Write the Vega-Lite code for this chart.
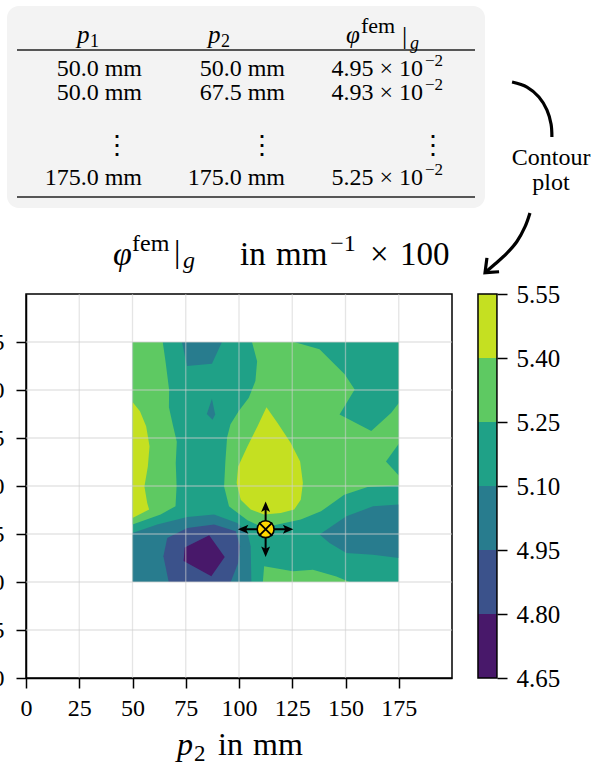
{
  "$schema": "https://vega.github.io/schema/vega-lite/v6.json",
  "width": 426,
  "height": 384,
  "autosize": {"type": "none"},
  "padding": {"left": 26, "top": 294, "right": 150, "bottom": 87},
  "background": "white",
  "config": {
    "view": {"stroke": "black", "strokeWidth": 1.5},
    "text": {"font": "Liberation Serif", "fontSize": 24, "color": "black", "baseline": "alphabetic", "align": "left"},
    "axis": {"labelFont": "Liberation Serif", "labelFontSize": 24, "labelColor": "black", "domainColor": "black", "domainWidth": 1.5, "tickColor": "black", "tickWidth": 1.5, "tickSize": 10, "grid": false, "labelFlush": false, "labelOverlap": false}
  },
  "datasets": {
    "contours": [
      {"poly":"base","level":5.1,"i":0,"p2":50,"p1":50},{"poly":"base","level":5.1,"i":1,"p2":175,"p1":50},{"poly":"base","level":5.1,"i":2,"p2":175,"p1":175},{"poly":"base","level":5.1,"i":3,"p2":50,"p1":175},
      {"poly":"lg","level":5.25,"i":0,"p2":50,"p1":175},{"poly":"lg","level":5.25,"i":1,"p2":64.2,"p1":175},{"poly":"lg","level":5.25,"i":2,"p2":65.6,"p1":164},{"poly":"lg","level":5.25,"i":3,"p2":67.2,"p1":150},{"poly":"lg","level":5.25,"i":4,"p2":67.1,"p1":141},{"poly":"lg","level":5.25,"i":5,"p2":69,"p1":131.5},{"poly":"lg","level":5.25,"i":6,"p2":70.8,"p1":123},{"poly":"lg","level":5.25,"i":7,"p2":70.3,"p1":112},{"poly":"lg","level":5.25,"i":8,"p2":70.7,"p1":100},{"poly":"lg","level":5.25,"i":9,"p2":70.2,"p1":89.5},{"poly":"lg","level":5.25,"i":10,"p2":63.2,"p1":85.2},{"poly":"lg","level":5.25,"i":11,"p2":50,"p1":80},
      {"poly":"rg","level":5.25,"i":0,"p2":106.1,"p1":175},{"poly":"rg","level":5.25,"i":1,"p2":108.5,"p1":165},{"poly":"rg","level":5.25,"i":2,"p2":107.7,"p1":154.7},{"poly":"rg","level":5.25,"i":3,"p2":104.6,"p1":146},{"poly":"rg","level":5.25,"i":4,"p2":99.9,"p1":139.1},{"poly":"rg","level":5.25,"i":5,"p2":96,"p1":132.1},{"poly":"rg","level":5.25,"i":6,"p2":94.4,"p1":125.2},{"poly":"rg","level":5.25,"i":7,"p2":93.6,"p1":112.7},{"poly":"rg","level":5.25,"i":8,"p2":93,"p1":99.8},{"poly":"rg","level":5.25,"i":9,"p2":95.3,"p1":89.4},{"poly":"rg","level":5.25,"i":10,"p2":104,"p1":82.1},{"poly":"rg","level":5.25,"i":11,"p2":111.5,"p1":78.3},{"poly":"rg","level":5.25,"i":12,"p2":118.1,"p1":80},{"poly":"rg","level":5.25,"i":13,"p2":129,"p1":82.5},{"poly":"rg","level":5.25,"i":14,"p2":138.5,"p1":86.8},{"poly":"rg","level":5.25,"i":15,"p2":149.4,"p1":95.5},{"poly":"rg","level":5.25,"i":16,"p2":160.4,"p1":99.5},{"poly":"rg","level":5.25,"i":17,"p2":175,"p1":100.2},{"poly":"rg","level":5.25,"i":18,"p2":175,"p1":175},
      {"poly":"bg","level":5.25,"i":0,"p2":111.2,"p1":50},{"poly":"bg","level":5.25,"i":1,"p2":111.8,"p1":58.2},{"poly":"bg","level":5.25,"i":2,"p2":125.3,"p1":55.6},{"poly":"bg","level":5.25,"i":3,"p2":134.7,"p1":56.4},{"poly":"bg","level":5.25,"i":4,"p2":145.7,"p1":52.9},{"poly":"bg","level":5.25,"i":5,"p2":151.9,"p1":50},
      {"poly":"ly","level":5.4,"i":0,"p2":50,"p1":143.8},{"poly":"ly","level":5.4,"i":1,"p2":53.5,"p1":138.9},{"poly":"ly","level":5.4,"i":2,"p2":56.4,"p1":131.1},{"poly":"ly","level":5.4,"i":3,"p2":58,"p1":120.7},{"poly":"ly","level":5.4,"i":4,"p2":57.2,"p1":110.2},{"poly":"ly","level":5.4,"i":5,"p2":55.6,"p1":99.8},{"poly":"ly","level":5.4,"i":6,"p2":56.9,"p1":91.1},{"poly":"ly","level":5.4,"i":7,"p2":57.8,"p1":87.7},{"poly":"ly","level":5.4,"i":8,"p2":50,"p1":83.3},
      {"poly":"dr","level":5.4,"i":0,"p2":112.9,"p1":141},{"poly":"dr","level":5.4,"i":1,"p2":118.1,"p1":132.8},{"poly":"dr","level":5.4,"i":2,"p2":124.3,"p1":122.4},{"poly":"dr","level":5.4,"i":3,"p2":128.7,"p1":112.8},{"poly":"dr","level":5.4,"i":4,"p2":130,"p1":101.6},{"poly":"dr","level":5.4,"i":5,"p2":129,"p1":92.9},{"poly":"dr","level":5.4,"i":6,"p2":125.9,"p1":87.7},{"poly":"dr","level":5.4,"i":7,"p2":119.6,"p1":85.9},{"poly":"dr","level":5.4,"i":8,"p2":111.8,"p1":85.1},{"poly":"dr","level":5.4,"i":9,"p2":105.5,"p1":87.7},{"poly":"dr","level":5.4,"i":10,"p2":100.8,"p1":92.9},{"poly":"dr","level":5.4,"i":11,"p2":98.9,"p1":101.6},{"poly":"dr","level":5.4,"i":12,"p2":99.6,"p1":110.2},{"poly":"dr","level":5.4,"i":13,"p2":104,"p1":120.7},{"poly":"dr","level":5.4,"i":14,"p2":108.7,"p1":131.1},
      {"poly":"trt","level":5.1,"i":0,"p2":125.9,"p1":175},{"poly":"trt","level":5.1,"i":1,"p2":137.8,"p1":171.2},{"poly":"trt","level":5.1,"i":2,"p2":149.6,"p1":158.2},{"poly":"trt","level":5.1,"i":3,"p2":154.3,"p1":150.3},{"poly":"trt","level":5.1,"i":4,"p2":147.2,"p1":137.3},{"poly":"trt","level":5.1,"i":5,"p2":162.1,"p1":128.6},{"poly":"trt","level":5.1,"i":6,"p2":171.5,"p1":138.2},{"poly":"trt","level":5.1,"i":7,"p2":175,"p1":143.2},{"poly":"trt","level":5.1,"i":8,"p2":175,"p1":175},
      {"poly":"nt","level":5.1,"i":0,"p2":175,"p1":122},{"poly":"nt","level":5.1,"i":1,"p2":169,"p1":112.8},{"poly":"nt","level":5.1,"i":2,"p2":175,"p1":105.5},
      {"poly":"ti","level":4.95,"i":0,"p2":73.2,"p1":175},{"poly":"ti","level":4.95,"i":1,"p2":75.6,"p1":162.5},{"poly":"ti","level":4.95,"i":2,"p2":87.3,"p1":163.7},{"poly":"ti","level":4.95,"i":3,"p2":92,"p1":175},
      {"poly":"sl","level":4.95,"i":0,"p2":87.3,"p1":145.5},{"poly":"sl","level":4.95,"i":1,"p2":84.9,"p1":137.5},{"poly":"sl","level":4.95,"i":2,"p2":87.6,"p1":134.5},{"poly":"sl","level":4.95,"i":3,"p2":88.8,"p1":137.2},
      {"poly":"btl","level":4.95,"i":0,"p2":50,"p1":50},{"poly":"btl","level":4.95,"i":1,"p2":50,"p1":75.5},{"poly":"btl","level":4.95,"i":2,"p2":61.6,"p1":79.9},{"poly":"btl","level":4.95,"i":3,"p2":75.7,"p1":83.9},{"poly":"btl","level":4.95,"i":4,"p2":88.3,"p1":85.1},{"poly":"btl","level":4.95,"i":5,"p2":99.2,"p1":80.7},{"poly":"btl","level":4.95,"i":6,"p2":104,"p1":75.5},{"poly":"btl","level":4.95,"i":7,"p2":105.5,"p1":68.6},{"poly":"btl","level":4.95,"i":8,"p2":105.8,"p1":50},
      {"poly":"btr","level":4.95,"i":0,"p2":137.8,"p1":74.7},{"poly":"btr","level":4.95,"i":1,"p2":150.4,"p1":84.2},{"poly":"btr","level":4.95,"i":2,"p2":162.9,"p1":89.4},{"poly":"btr","level":4.95,"i":3,"p2":175,"p1":90.3},{"poly":"btr","level":4.95,"i":4,"p2":175,"p1":62.5},{"poly":"btr","level":4.95,"i":5,"p2":162.9,"p1":64.2},{"poly":"btr","level":4.95,"i":6,"p2":150.4,"p1":65.1},{"poly":"btr","level":4.95,"i":7,"p2":142.5,"p1":70.3},
      {"poly":"bl","level":4.8,"i":0,"p2":67,"p1":50},{"poly":"bl","level":4.8,"i":1,"p2":64.5,"p1":63.4},{"poly":"bl","level":4.8,"i":2,"p2":66.3,"p1":72.9},{"poly":"bl","level":4.8,"i":3,"p2":75.7,"p1":78.1},{"poly":"bl","level":4.8,"i":4,"p2":88.3,"p1":79.9},{"poly":"bl","level":4.8,"i":5,"p2":98.5,"p1":76.4},{"poly":"bl","level":4.8,"i":6,"p2":100.5,"p1":68.6},{"poly":"bl","level":4.8,"i":7,"p2":99.6,"p1":59.9},{"poly":"bl","level":4.8,"i":8,"p2":96.1,"p1":50},
      {"poly":"pu","level":4.65,"i":0,"p2":74.5,"p1":68},{"poly":"pu","level":4.65,"i":1,"p2":86,"p1":74.3},{"poly":"pu","level":4.65,"i":2,"p2":93.3,"p1":63},{"poly":"pu","level":4.65,"i":3,"p2":87,"p1":53},{"poly":"pu","level":4.65,"i":4,"p2":74,"p1":61}
    ],
    "ticks": [{"v":25},{"v":50},{"v":75},{"v":100},{"v":125},{"v":150},{"v":175}],
    "design": [{"p2": 112.5, "p1": 77.5}],
    "table": [
      {"row":1,"p1":"50.0 mm","p2":"50.0 mm","phi":"4.95 × 10","exp":"−2"},
      {"row":2,"p1":"50.0 mm","p2":"67.5 mm","phi":"4.93 × 10","exp":"−2"},
      {"row":3,"p1":"175.0 mm","p2":"175.0 mm","phi":"5.25 × 10","exp":"−2"}
    ],
    "arrows": [
      {"a":"arc","i":0,"x":228.2,"y":310.4},{"a":"arc","i":1,"x":235.2,"y":307.8},{"a":"arc","i":2,"x":240.8,"y":302.6},{"a":"arc","i":3,"x":244.6,"y":295.8},{"a":"arc","i":4,"x":246.5,"y":288.5},{"a":"arc","i":5,"x":246.9,"y":281.8},
      {"a":"curve","i":0,"x":236.6,"y":242.2},{"a":"curve","i":1,"x":234.3,"y":235.1},{"a":"curve","i":2,"x":230.4,"y":227.2},{"a":"curve","i":3,"x":225.7,"y":221.2},{"a":"curve","i":4,"x":220.2,"y":215.6},{"a":"curve","i":5,"x":215.5,"y":211.1},
      {"a":"head","i":0,"x":216.4,"y":218.8},{"a":"head","i":1,"x":215.5,"y":211.1},{"a":"head","i":2,"x":222.1,"y":211.6}
    ],
    "bands": [
      {"level":4.65,"hi":4.8},{"level":4.8,"hi":4.95},{"level":4.95,"hi":5.1},{"level":5.1,"hi":5.25},{"level":5.25,"hi":5.4},{"level":5.4,"hi":5.55}
    ]
  },
  "layer": [
    {
      "layer": [
        {
          "data": {"name": "contours"},
          "transform": [{"filter": {"field": "poly", "oneOf": ["base"]}}],
          "mark": {"type": "line", "strokeWidth": 0},
          "encoding": {
            "x": {"field": "p2", "type": "quantitative", "scale": {"domain": [0, 200], "nice": false, "zero": false}, "axis": {"orient": "bottom", "values": [0,25,50,75,100,125,150,175], "title": null, "labelPadding": 8}},
            "y": {"field": "p1", "type": "quantitative", "scale": {"domain": [0, 200], "nice": false, "zero": false}, "axis": {"orient": "left", "values": [0,25,50,75,100,125,150,175], "title": null, "labelPadding": 12}},
            "order": {"field": "i", "type": "quantitative"},
            "detail": {"field": "poly", "type": "nominal"},
            "fill": {"field": "level", "type": "ordinal", "scale": {"domain": [4.65, 4.8, 4.95, 5.1, 5.25, 5.4], "range": ["#48186a", "#3b528b", "#287c8e", "#1fa187", "#5ec962", "#c5e021"]}, "legend": null}
          }
        },
        {
          "data": {"name": "contours"},
          "transform": [{"filter": {"field": "poly", "oneOf": ["lg", "rg", "bg"]}}],
          "mark": {"type": "line", "strokeWidth": 0},
          "encoding": {
            "x": {"field": "p2", "type": "quantitative"},
            "y": {"field": "p1", "type": "quantitative"},
            "order": {"field": "i", "type": "quantitative"},
            "detail": {"field": "poly", "type": "nominal"},
            "fill": {"field": "level", "type": "ordinal", "legend": null}
          }
        },
        {
          "data": {"name": "contours"},
          "transform": [{"filter": {"field": "poly", "oneOf": ["ly", "dr", "trt", "nt", "ti", "sl", "btl", "btr"]}}],
          "mark": {"type": "line", "strokeWidth": 0},
          "encoding": {
            "x": {"field": "p2", "type": "quantitative"},
            "y": {"field": "p1", "type": "quantitative"},
            "order": {"field": "i", "type": "quantitative"},
            "detail": {"field": "poly", "type": "nominal"},
            "fill": {"field": "level", "type": "ordinal", "legend": null}
          }
        },
        {
          "data": {"name": "contours"},
          "transform": [{"filter": {"field": "poly", "oneOf": ["bl"]}}],
          "mark": {"type": "line", "strokeWidth": 0},
          "encoding": {
            "x": {"field": "p2", "type": "quantitative"},
            "y": {"field": "p1", "type": "quantitative"},
            "order": {"field": "i", "type": "quantitative"},
            "detail": {"field": "poly", "type": "nominal"},
            "fill": {"field": "level", "type": "ordinal", "legend": null}
          }
        },
        {
          "data": {"name": "contours"},
          "transform": [{"filter": {"field": "poly", "oneOf": ["pu"]}}],
          "mark": {"type": "line", "strokeWidth": 0},
          "encoding": {
            "x": {"field": "p2", "type": "quantitative"},
            "y": {"field": "p1", "type": "quantitative"},
            "order": {"field": "i", "type": "quantitative"},
            "detail": {"field": "poly", "type": "nominal"},
            "fill": {"field": "level", "type": "ordinal", "legend": null}
          }
        },
        {
          "data": {"name": "ticks"},
          "mark": {"type": "rule", "color": "#d0d0d0", "strokeWidth": 1.3, "opacity": 0.55},
          "encoding": {"x": {"field": "v", "type": "quantitative"}}
        },
        {
          "data": {"name": "ticks"},
          "mark": {"type": "rule", "color": "#d0d0d0", "strokeWidth": 1.3, "opacity": 0.55},
          "encoding": {"y": {"field": "v", "type": "quantitative"}}
        },
        {
          "data": {"name": "design"},
          "mark": {"type": "rule", "color": "black", "strokeWidth": 2, "xOffset": -22, "x2Offset": 22},
          "encoding": {"x": {"field": "p2", "type": "quantitative"}, "x2": {"field": "p2"}, "y": {"field": "p1", "type": "quantitative"}}
        },
        {
          "data": {"name": "design"},
          "mark": {"type": "rule", "color": "black", "strokeWidth": 2, "yOffset": -22, "y2Offset": 22},
          "encoding": {"x": {"field": "p2", "type": "quantitative"}, "y": {"field": "p1", "type": "quantitative"}, "y2": {"field": "p1"}}
        },
        {
          "data": {"name": "design"},
          "mark": {"type": "point", "shape": "M1,0L-1,-0.85L-0.55,0L-1,0.85Z", "filled": true, "color": "black", "opacity": 1, "size": 110, "xOffset": 22.5, "angle": 0},
          "encoding": {"x": {"field": "p2", "type": "quantitative"}, "y": {"field": "p1", "type": "quantitative"}}
        },
        {
          "data": {"name": "design"},
          "mark": {"type": "point", "shape": "M1,0L-1,-0.85L-0.55,0L-1,0.85Z", "filled": true, "color": "black", "opacity": 1, "size": 110, "xOffset": -22.5, "angle": 180},
          "encoding": {"x": {"field": "p2", "type": "quantitative"}, "y": {"field": "p1", "type": "quantitative"}}
        },
        {
          "data": {"name": "design"},
          "mark": {"type": "point", "shape": "M1,0L-1,-0.85L-0.55,0L-1,0.85Z", "filled": true, "color": "black", "opacity": 1, "size": 110, "yOffset": -22.5, "angle": 270},
          "encoding": {"x": {"field": "p2", "type": "quantitative"}, "y": {"field": "p1", "type": "quantitative"}}
        },
        {
          "data": {"name": "design"},
          "mark": {"type": "point", "shape": "M1,0L-1,-0.85L-0.55,0L-1,0.85Z", "filled": true, "color": "black", "opacity": 1, "size": 110, "yOffset": 22.5, "angle": 90},
          "encoding": {"x": {"field": "p2", "type": "quantitative"}, "y": {"field": "p1", "type": "quantitative"}}
        },
        {
          "data": {"name": "design"},
          "mark": {"type": "point", "shape": "circle", "filled": true, "fill": "#ffd700", "stroke": "black", "strokeWidth": 1.6, "opacity": 1, "size": 285},
          "encoding": {"x": {"field": "p2", "type": "quantitative"}, "y": {"field": "p1", "type": "quantitative"}}
        },
        {
          "data": {"name": "design"},
          "mark": {"type": "point", "shape": "M-0.7,-0.7L0.7,0.7M-0.7,0.7L0.7,-0.7", "filled": false, "stroke": "black", "strokeWidth": 1.8, "opacity": 1, "size": 361},
          "encoding": {"x": {"field": "p2", "type": "quantitative"}, "y": {"field": "p1", "type": "quantitative"}}
        },
        {
          "data": {"values": [{}]},
          "mark": {"type": "rect", "fill": "#f3f3f3", "cornerRadius": 12},
          "encoding": {"x": {"datum": -8.92}, "x2": {"datum": 215.49}, "y": {"datum": 350}, "y2": {"datum": 244.79}}
        },
        {
          "data": {"values": [{}]},
          "mark": {"type": "rule", "color": "#222222", "strokeWidth": 1.5},
          "encoding": {"x": {"datum": -4.23}, "x2": {"datum": 210.8}, "y": {"datum": 327.08}}
        },
        {
          "data": {"values": [{}]},
          "mark": {"type": "rule", "color": "#222222", "strokeWidth": 1.5},
          "encoding": {"x": {"datum": -4.23}, "x2": {"datum": 210.8}, "y": {"datum": 250.52}}
        },
        {"data": {"values": [{"t": "p"}]}, "mark": {"type": "text", "fontStyle": "italic", "fontSize": 25}, "encoding": {"x": {"datum": 23.94}, "y": {"datum": 330.73}, "text": {"field": "t"}}},
        {"data": {"values": [{"t": "1"}]}, "mark": {"type": "text", "fontSize": 18}, "encoding": {"x": {"datum": 30.05}, "y": {"datum": 328.65}, "text": {"field": "t"}}},
        {"data": {"values": [{"t": "p"}]}, "mark": {"type": "text", "fontStyle": "italic", "fontSize": 25}, "encoding": {"x": {"datum": 85.45}, "y": {"datum": 330.73}, "text": {"field": "t"}}},
        {"data": {"values": [{"t": "2"}]}, "mark": {"type": "text", "fontSize": 18}, "encoding": {"x": {"datum": 91.55}, "y": {"datum": 328.65}, "text": {"field": "t"}}},
        {"data": {"values": [{"t": "φ"}]}, "mark": {"type": "text", "fontStyle": "italic", "fontSize": 25}, "encoding": {"x": {"datum": 150.23}, "y": {"datum": 330.73}, "text": {"field": "t"}}},
        {"data": {"values": [{"t": "fem"}]}, "mark": {"type": "text", "fontSize": 22}, "encoding": {"x": {"datum": 157.28}, "y": {"datum": 335.94}, "text": {"field": "t"}}},
        {"data": {"values": [{"t": "|"}]}, "mark": {"type": "text", "fontSize": 26}, "encoding": {"x": {"datum": 176.5}, "y": {"datum": 330.21}, "text": {"field": "t"}}},
        {"data": {"values": [{"t": "g"}]}, "mark": {"type": "text", "fontStyle": "italic", "fontSize": 18}, "encoding": {"x": {"datum": 180.3}, "y": {"datum": 327.6}, "text": {"field": "t"}}},
        {
          "data": {"name": "table"},
          "transform": [{"filter": {"field": "row", "equal": 1}}],
          "encoding": {"y": {"datum": 313.54}},
          "layer": [
            {"mark": {"type": "text", "align": "right"}, "encoding": {"x": {"datum": 54.46}, "text": {"field": "p1"}}},
            {"mark": {"type": "text", "align": "right"}, "encoding": {"x": {"datum": 121.6}, "text": {"field": "p2"}}},
            {"mark": {"type": "text", "align": "right"}, "encoding": {"x": {"datum": 186.38}, "text": {"field": "phi"}}},
            {"mark": {"type": "text", "fontSize": 17, "dy": -10}, "encoding": {"x": {"datum": 187.3}, "text": {"field": "exp"}}}
          ]
        },
        {
          "data": {"name": "table"},
          "transform": [{"filter": {"field": "row", "equal": 2}}],
          "encoding": {"y": {"datum": 301.3}},
          "layer": [
            {"mark": {"type": "text", "align": "right"}, "encoding": {"x": {"datum": 54.46}, "text": {"field": "p1"}}},
            {"mark": {"type": "text", "align": "right"}, "encoding": {"x": {"datum": 121.6}, "text": {"field": "p2"}}},
            {"mark": {"type": "text", "align": "right"}, "encoding": {"x": {"datum": 186.38}, "text": {"field": "phi"}}},
            {"mark": {"type": "text", "fontSize": 17, "dy": -10}, "encoding": {"x": {"datum": 187.3}, "text": {"field": "exp"}}}
          ]
        },
        {
          "data": {"name": "table"},
          "transform": [{"filter": {"field": "row", "equal": 3}}],
          "encoding": {"y": {"datum": 257.03}},
          "layer": [
            {"mark": {"type": "text", "align": "right"}, "encoding": {"x": {"datum": 54.46}, "text": {"field": "p1"}}},
            {"mark": {"type": "text", "align": "right"}, "encoding": {"x": {"datum": 121.6}, "text": {"field": "p2"}}},
            {"mark": {"type": "text", "align": "right"}, "encoding": {"x": {"datum": 186.38}, "text": {"field": "phi"}}},
            {"mark": {"type": "text", "fontSize": 17, "dy": -10}, "encoding": {"x": {"datum": 187.3}, "text": {"field": "exp"}}}
          ]
        },
        {
          "data": {"values": [{"t": "⋮"}]},
          "encoding": {"y": {"datum": 272.9}, "text": {"field": "t"}},
          "layer": [
            {"mark": {"type": "text", "align": "center", "fontSize": 26}, "encoding": {"x": {"datum": 42.72}}},
            {"mark": {"type": "text", "align": "center", "fontSize": 26}, "encoding": {"x": {"datum": 110.8}}},
            {"mark": {"type": "text", "align": "center", "fontSize": 26}, "encoding": {"x": {"datum": 191.08}}}
          ]
        },
        {"data": {"values": [{"t": "φ"}]}, "mark": {"type": "text", "fontStyle": "italic", "fontSize": 34}, "encoding": {"x": {"datum": 40.85}, "y": {"datum": 215.1}, "text": {"field": "t"}}},
        {"data": {"values": [{"t": "fem"}]}, "mark": {"type": "text", "fontSize": 24}, "encoding": {"x": {"datum": 49.77}, "y": {"datum": 222.4}, "text": {"field": "t"}}},
        {"data": {"values": [{"t": "|"}]}, "mark": {"type": "text", "fontSize": 32}, "encoding": {"x": {"datum": 69.5}, "y": {"datum": 216.7}, "text": {"field": "t"}}},
        {"data": {"values": [{"t": "g"}]}, "mark": {"type": "text", "fontStyle": "italic", "fontSize": 24}, "encoding": {"x": {"datum": 73.7}, "y": {"datum": 213.5}, "text": {"field": "t"}}},
        {"data": {"values": [{"t": "in"}]}, "mark": {"type": "text", "fontSize": 33}, "encoding": {"x": {"datum": 100.47}, "y": {"datum": 215.1}, "text": {"field": "t"}}},
        {"data": {"values": [{"t": "mm"}]}, "mark": {"type": "text", "fontSize": 33}, "encoding": {"x": {"datum": 117.37}, "y": {"datum": 215.1}, "text": {"field": "t"}}},
        {"data": {"values": [{"t": "−1"}]}, "mark": {"type": "text", "fontSize": 24}, "encoding": {"x": {"datum": 142.8}, "y": {"datum": 222.4}, "text": {"field": "t"}}},
        {"data": {"values": [{"t": "×"}]}, "mark": {"type": "text", "fontSize": 33}, "encoding": {"x": {"datum": 161.5}, "y": {"datum": 215.1}, "text": {"field": "t"}}},
        {"data": {"values": [{"t": "100"}]}, "mark": {"type": "text", "fontSize": 33}, "encoding": {"x": {"datum": 175.6}, "y": {"datum": 215.1}, "text": {"field": "t"}}},
        {"data": {"values": [{"t": "p"}]}, "mark": {"type": "text", "fontStyle": "italic", "fontSize": 32}, "encoding": {"x": {"datum": 70.9}, "y": {"datum": -40.1}, "text": {"field": "t"}}},
        {"data": {"values": [{"t": "2"}]}, "mark": {"type": "text", "fontSize": 23}, "encoding": {"x": {"datum": 78.9}, "y": {"datum": -43.2}, "text": {"field": "t"}}},
        {"data": {"values": [{"t": "in"}]}, "mark": {"type": "text", "fontSize": 32}, "encoding": {"x": {"datum": 90.14}, "y": {"datum": -40.1}, "text": {"field": "t"}}},
        {"data": {"values": [{"t": "mm"}]}, "mark": {"type": "text", "fontSize": 32}, "encoding": {"x": {"datum": 106.6}, "y": {"datum": -40.1}, "text": {"field": "t"}}},
        {"data": {"values": [{"t": "Contour"}]}, "mark": {"type": "text", "align": "center", "fontSize": 24}, "encoding": {"x": {"datum": 246.5}, "y": {"datum": 267.2}, "text": {"field": "t"}}},
        {"data": {"values": [{"t": "plot"}]}, "mark": {"type": "text", "align": "center", "fontSize": 24}, "encoding": {"x": {"datum": 246.5}, "y": {"datum": 254.2}, "text": {"field": "t"}}},
        {
          "data": {"name": "arrows"},
          "transform": [{"filter": {"field": "a", "oneOf": ["arc", "curve"]}}],
          "mark": {"type": "line", "color": "black", "strokeWidth": 3.2, "interpolate": "cardinal"},
          "encoding": {"x": {"field": "x", "type": "quantitative"}, "y": {"field": "y", "type": "quantitative"}, "order": {"field": "i", "type": "quantitative"}, "detail": {"field": "a", "type": "nominal"}}
        },
        {
          "data": {"name": "arrows"},
          "transform": [{"filter": {"field": "a", "equal": "head"}}],
          "mark": {"type": "line", "color": "black", "strokeWidth": 3.2, "strokeJoin": "miter"},
          "encoding": {"x": {"field": "x", "type": "quantitative"}, "y": {"field": "y", "type": "quantitative"}, "order": {"field": "i", "type": "quantitative"}}
        }
      ]
    },
    {
      "layer": [
        {
          "data": {"name": "bands"},
          "mark": {"type": "rect"},
          "encoding": {
            "x": {"datum": 212.2},
            "x2": {"datum": 221.1},
            "y": {"field": "level", "type": "quantitative", "scale": {"domain": [4.65, 5.55], "nice": false, "zero": false}, "axis": {"orient": "right", "offset": 45, "values": [4.65, 4.8, 4.95, 5.1, 5.25, 5.4, 5.55], "format": ".2f", "domain": false, "title": null, "labelPadding": 9, "labelFontSize": 25}},
            "y2": {"field": "hi"},
            "fill": {"field": "level", "type": "ordinal", "legend": null}
          }
        },
        {
          "data": {"values": [{}]},
          "mark": {"type": "rect", "fill": "transparent", "stroke": "black", "strokeWidth": 1.5},
          "encoding": {"x": {"datum": 212.2}, "x2": {"datum": 221.1}, "y": {"datum": 4.65}, "y2": {"datum": 5.55}}
        }
      ]
    }
  ],
  "resolve": {"scale": {"y": "independent"}}
}
